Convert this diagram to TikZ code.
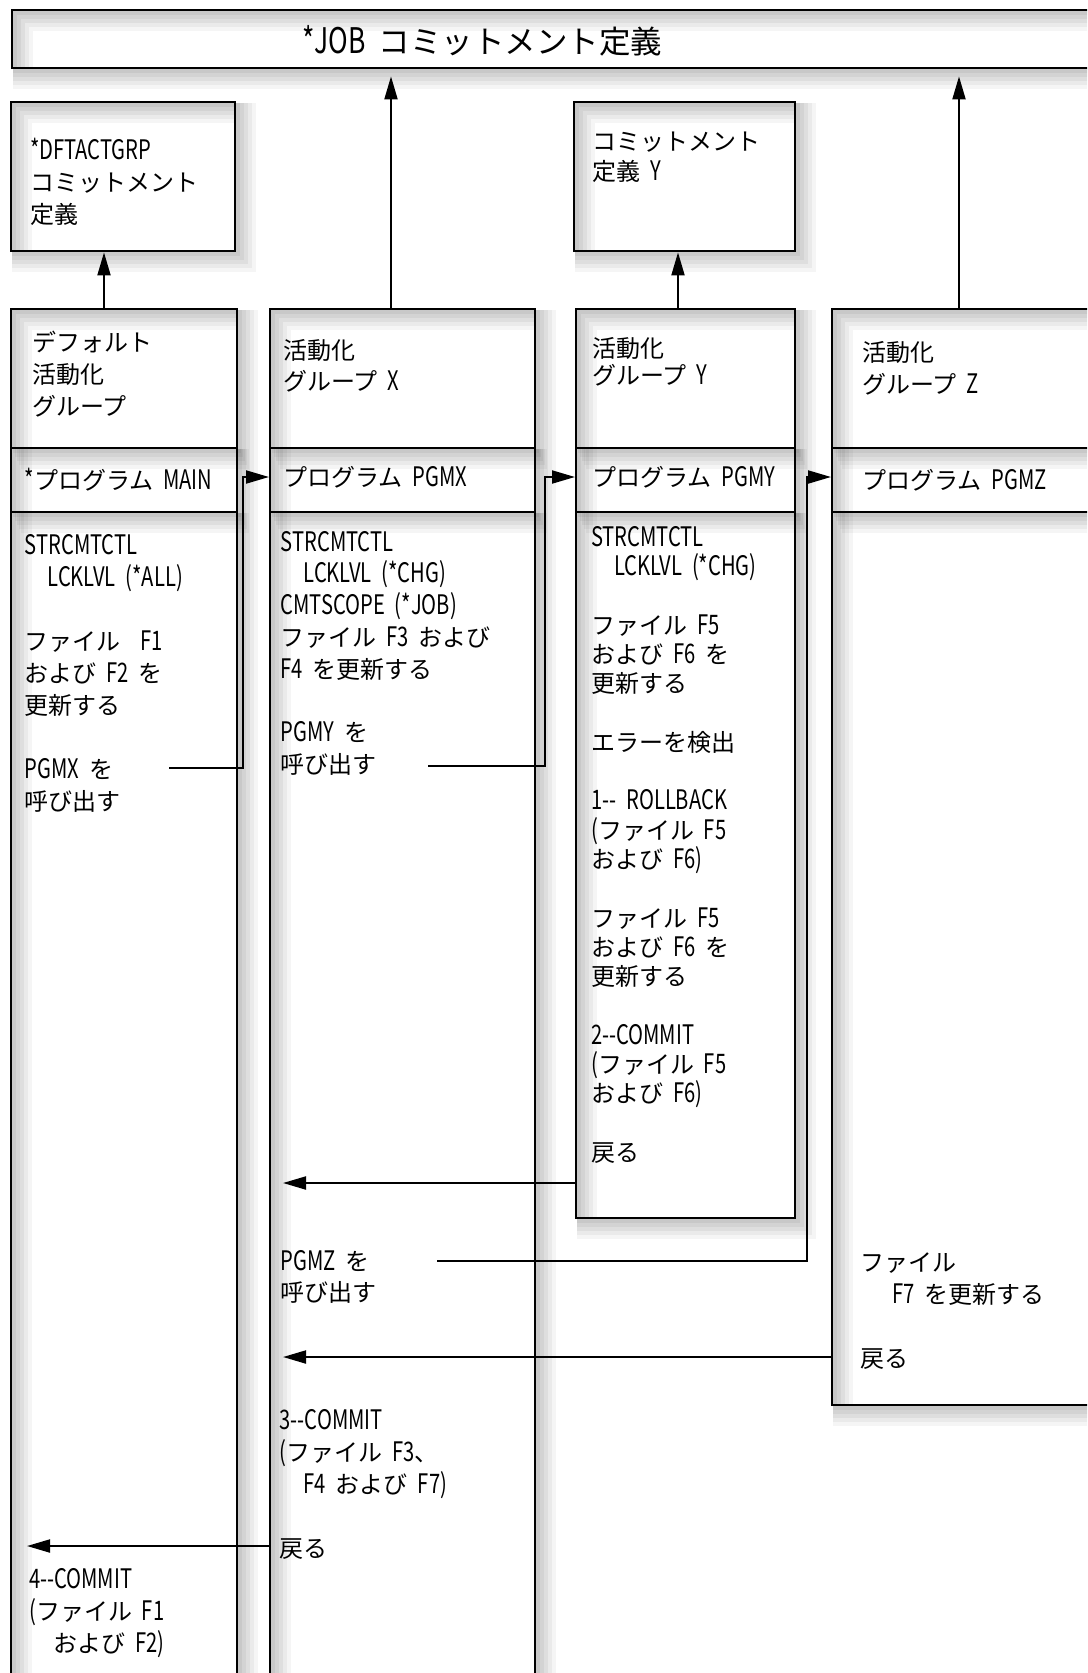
\documentclass[tikz,border=0pt]{standalone}
\usepackage{fontspec}
\setmainfont{Noto Sans CJK JP}[FakeStretch=0.75,Scale=1.12,WordSpace=2.2]
\newfontfamily\jpfont{Noto Sans CJK JP}
\usetikzlibrary{arrows.meta}
% kana and kanji in the plain font, latin letters narrow and tall
\XeTeXinterchartokenstate=1
\newXeTeXintercharclass\jpclass
\newcount\chr
\def\setjp#1#2{\chr=#1 \loop\XeTeXcharclass\chr=\jpclass\ifnum\chr<#2 \advance\chr by 1 \repeat}
\setjp{"3000}{"30FF}
\setjp{"4E00}{"9FFF}
\setjp{"FF00}{"FFEF}
\XeTeXinterchartoks 0 \jpclass = {\jpfont}
\XeTeXinterchartoks 4095 \jpclass = {\jpfont}
\XeTeXinterchartoks \jpclass 0 = {\rmfamily}
\XeTeXinterchartoks \jpclass 4095 = {\rmfamily}
% first line of a text block: fixed height, so north = baseline - 26pt
\newcommand\firstline{\rule{0pt}{26pt}}
\tikzset{
  shadowed/.style={
    preaction={draw=black, draw opacity=.04, line width=20pt, transform canvas={shift={(11pt,-11pt)}}},
    preaction={draw=black, draw opacity=.045, line width=16pt, transform canvas={shift={(9pt,-9pt)}}},
    preaction={draw=black, draw opacity=.05, line width=12pt, transform canvas={shift={(7pt,-7pt)}}},
    preaction={draw=black, draw opacity=.05, line width=8pt, transform canvas={shift={(5pt,-5pt)}}},
    preaction={draw=black, draw opacity=.05, line width=4pt, transform canvas={shift={(3pt,-3pt)}}}},
}
\begin{document}
\begin{tikzpicture}[x=1pt, y=-1pt,
    box/.style={draw, line width=2.4pt, shadowed, inner sep=0pt, anchor=north west},
    divline/.style={line width=2pt, shadowed},
    arr/.style={line width=2pt, -{Triangle[length=23pt,width=13pt]}},
    txt/.style={anchor=north west, yshift=26pt, inner sep=0pt, align=left, font=\fontsize{24pt}{32pt}\selectfont}]
		\useasboundingbox (0,0) rectangle (1087,1673);
		\clip (0,0) rectangle (1087,1673);
		% commitment definitions
		\node[box, minimum width=1200pt, minimum height=58pt] (job) at (11,9) {};
		\node[box, minimum width=224pt, minimum height=149pt] (dft) at (10,101) {};
		\node[box, minimum width=221pt, minimum height=149pt] (cmtY) at (573,101) {};
		% activation groups
		\node[box, minimum width=226pt, minimum height=1500pt] (grpD) at (10,308) {};
		\node[box, minimum width=265pt, minimum height=1500pt] (grpX) at (269,308) {};
		\node[box, minimum width=219pt, minimum height=909pt] (grpY) at (575,308) {};
		\node[box, minimum width=400pt, minimum height=1096pt] (grpZ) at (831,308) {};
		\foreach \g in {grpD,grpX,grpY,grpZ}{
			\draw[divline] ([yshift=-140pt]\g.north west) -- ([yshift=-140pt]\g.north east);
			\draw[divline] ([yshift=-204pt]\g.north west) -- ([yshift=-204pt]\g.north east);
		}
		% groups to definitions
		\coordinate (upD) at ([xshift=94pt]grpD.north west);
		\coordinate (upX) at ([xshift=122pt]grpX.north west);
		\coordinate (upY) at ([xshift=103pt]grpY.north west);
		\coordinate (upZ) at ([xshift=128pt]grpZ.north west);
		\draw[arr] (upD) -- (upD |- dft.south);
		\draw[arr, shorten >=7pt] (upX) -- (upX |- job.south);
		\draw[arr] (upY) -- (upY |- cmtY.south);
		\draw[arr, shorten >=7pt] (upZ) -- (upZ |- job.south);
		% calls
		\coordinate (inX) at ([yshift=-169pt]grpX.north west);
		\coordinate (inY) at ([yshift=-169pt]grpY.north west);
		\coordinate (inZ) at ([yshift=-169pt]grpZ.north west);
		\coordinate (callX) at (169,768);
		\coordinate (callY) at (428,766);
		\coordinate (callZ) at (437,1261);
		\draw[arr] (callX) -| ([xshift=-26pt]inX) -- (inX);
		\draw[arr] (callY) -| ([xshift=-30pt]inY) -- (inY);
		\draw[arr] (callZ) -| ([xshift=-24pt]inZ) -- (inZ);
		% returns
		\coordinate (backY) at (283,1183);
		\coordinate (backZ) at (283,1357);
		\coordinate (backX) at (27,1546);
		\draw[arr] (grpY.west |- backY) -- (backY);
		\draw[arr] (grpZ.west |- backZ) -- (backZ);
		\draw[arr] (grpX.west |- backX) -- (backX);
		% texts
		\node[anchor=base west, inner sep=0pt, font=\fontsize{31.5pt}{36pt}\selectfont] (jobT) at (302,53) {*JOB コミットメント定義};
		\node[txt] (dftT) at (30,159) {\firstline*DFTACTGRP\\コミットメント\\定義};
		\node[txt, font=\fontsize{24pt}{30pt}\selectfont] (cmtYT) at (592,150) {\firstline コミットメント\\定義 Y};
		\node[txt] (hdD) at (32,351) {\firstline デフォルト\\活動化\\グループ};
		\node[txt, font=\fontsize{24pt}{31pt}\selectfont] (hdX) at (283,359) {\firstline 活動化\\グループ X};
		\node[txt, font=\fontsize{24pt}{27pt}\selectfont] (hdY) at (592,357) {\firstline 活動化\\グループ Y};
		\node[txt] (hdZ) at (862,361) {\firstline 活動化\\グループ Z};
		\node[txt] (pgmD) at (24.5,489) {\firstline*プログラム MAIN};
		\node[txt] (pgmX) at (283,486) {\firstline プログラム PGMX};
		\node[txt] (pgmY) at (592,486) {\firstline プログラム PGMY};
		\node[txt] (pgmZ) at (862,489) {\firstline プログラム PGMZ};
		\node[txt] (bodyD) at (24.5,554) {\firstline STRCMTCTL\\\hspace*{23pt}LCKLVL (*ALL)\\[32pt]ファイル\ \ F1\\および F2 を\\更新する\\[32pt]PGMX を\\呼び出す};
		\node[txt] (endD) at (29,1588) {\firstline 4-{}-COMMIT\\(ファイル F1\\\hspace*{24pt}および F2)};
		\node[txt, font=\fontsize{24pt}{31.7pt}\selectfont] (bodyX) at (280.5,551) {\firstline STRCMTCTL\\\hspace*{23pt}LCKLVL (*CHG)\\CMTSCOPE (*JOB)\\ファイル F3 および\\F4 を更新する\\[31.7pt]PGMY を\\呼び出す};
		\node[txt, font=\fontsize{24pt}{31pt}\selectfont] (callZT) at (280.5,1270) {\firstline PGMZ を\\呼び出す};
		\node[txt] (endX) at (279.5,1429) {\firstline 3-{}-COMMIT\\(ファイル F3、\\\hspace*{24pt}F4 および F7)\\[32pt]戻る};
		\node[txt, font=\fontsize{24pt}{29.3pt}\selectfont] (bodyY) at (591,546) {\firstline STRCMTCTL\\\hspace*{23pt}LCKLVL (*CHG)\\[29.3pt]ファイル F5\\および F6 を\\更新する\\[29.3pt]エラーを検出\\[29.3pt]1-{}- ROLLBACK\\(ファイル F5\\および F6)\\[29.3pt]ファイル F5\\および F6 を\\更新する\\[29.3pt]2-{}-COMMIT\\(ファイル F5\\および F6)\\[29.3pt]戻る};
		\node[txt] (bodyZ) at (860,1271) {\firstline ファイル\\\hspace*{32pt}F7 を更新する\\[32pt]戻る};
\end{tikzpicture}
\end{document}
